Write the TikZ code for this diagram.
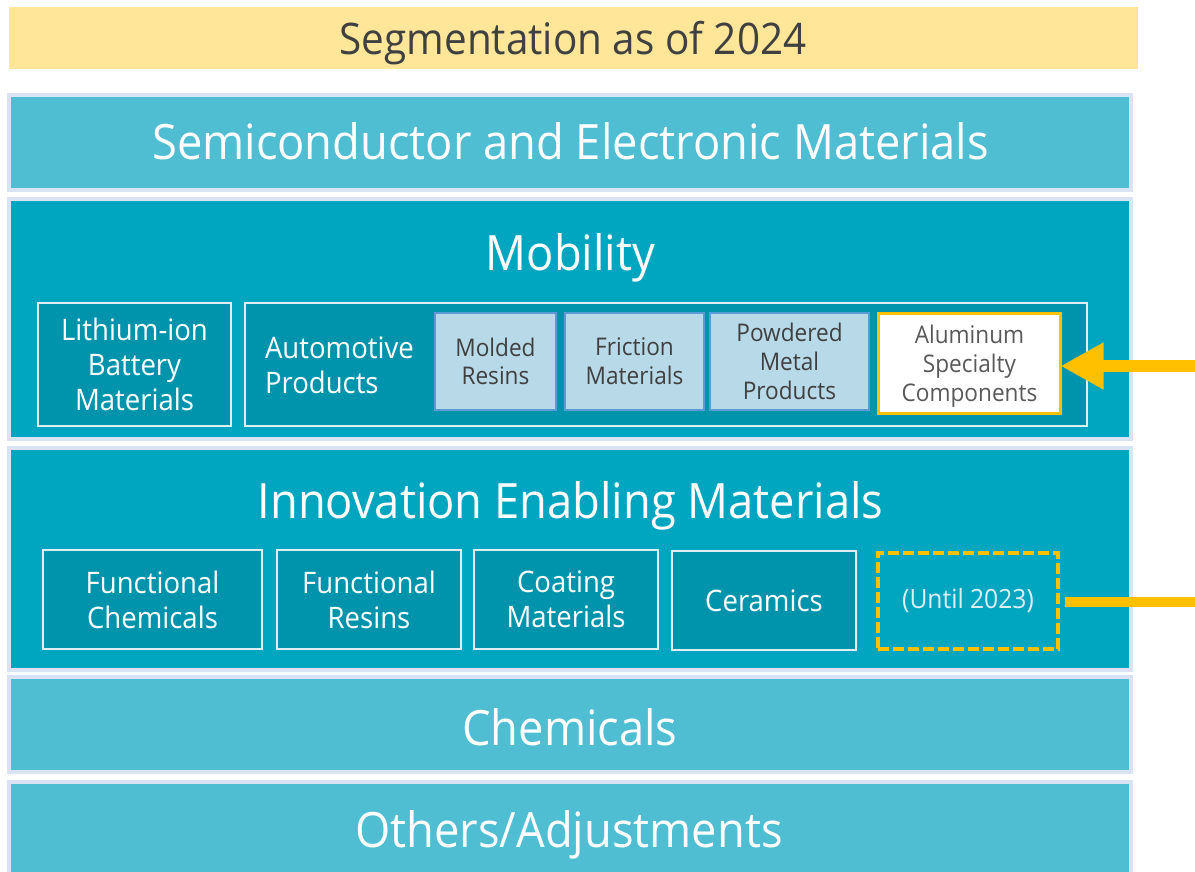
\documentclass[tikz,border=0pt]{standalone}
\usepackage{fontspec}
\setmainfont{Open Sans}[FakeStretch=0.93]
\usetikzlibrary{arrows.meta}

\definecolor{banner}{HTML}{FFE699}
\definecolor{frame}{HTML}{DAE3F3}
\definecolor{bandlight}{HTML}{4FBDD2}
\definecolor{banddark}{HTML}{00A6C0}
\definecolor{unitfill}{HTML}{0094AC}
\definecolor{unitline}{HTML}{DDEEF4}
\definecolor{subfill}{HTML}{B7D9E8}
\definecolor{subline}{HTML}{5B9BD5}
\definecolor{accent}{HTML}{FFC000}
\definecolor{inkdark}{HTML}{404040}
\definecolor{inkgrey}{HTML}{595959}
\definecolor{inksoft}{HTML}{DCEFF4}

\tikzset{
  x=1pt, y=-1pt,
  every node/.style={inner sep=0pt, outer sep=0pt},
  band/.style={draw=frame, line width=4pt, minimum width=1122pt},
  bandtitle/.style={anchor=base, text=white, font=\fontsize{48.7}{58}\selectfont},
  unittext/.style={text=white, font=\fontsize{29.6}{35}\selectfont},
  unit/.style={draw=unitline, line width=2pt, fill=unitfill, unittext, align=center},
  subtext/.style={align=center, font=\fontsize{24.3}{28.7}\selectfont},
  sub/.style={draw=subline, line width=2pt, fill=subfill, text=inkdark, subtext},
  pointer/.style={draw=accent, line width=3pt, fill=white},
  former/.style={draw=accent, line width=3.5pt, dash pattern=on 11pt off 4pt,
    text=inksoft, font=\fontsize{26.5}{31}\selectfont},
}

\begin{document}
\begin{tikzpicture}
\useasboundingbox (0,0) rectangle (1195,872);
\path[clip] (0,0) rectangle (1195,872);

% heading banner
\node[fill=banner, minimum width=1129pt, minimum height=62pt] (banner) at (573.5,38) {};
\node[anchor=base, text=inkdark, font=\fontsize{43.5}{50}\selectfont] (heading) at (573,55) {Segmentation as of 2024};

% segment bands
\node[band, fill=bandlight, minimum height=95pt]  (semi)  at (570,142.5) {};
\node[band, fill=banddark,  minimum height=240pt] (mob)   at (570,319) {};
\node[band, fill=banddark,  minimum height=222pt] (inno)  at (570,559) {};
\node[band, fill=bandlight, minimum height=95pt]  (chem)  at (570,724.5) {};
\node[band, fill=bandlight, minimum height=108pt] (other) at (570,836) {};

\node[bandtitle] (semititle)  at (570.5,160) {Semiconductor and Electronic Materials};
\node[bandtitle] (mobtitle)   at (570.5,270) {Mobility};
\node[bandtitle] (innotitle)  at (570.5,518) {Innovation Enabling Materials};
\node[bandtitle] (chemtitle)  at (570,745) {Chemicals};
\node[bandtitle] (othertitle) at (569,847) {Others/Adjustments};

% Mobility units
\node[unit, minimum width=193pt, minimum height=123pt] (lib) at (134.5,364.5) {Lithium-ion\\Battery\\Materials};
\node[unit, minimum width=842pt, minimum height=123pt] (auto) at (666,364.5) {};
\node[anchor=west, unittext, align=left] (autotext) at (265,365) {Automotive\\Products};

\node[sub, minimum width=121pt, minimum height=97pt] (molded)   at (495.5,361.5) {Molded\\Resins};
\node[sub, minimum width=139pt, minimum height=97pt] (friction) at (634.5,361.5) {Friction\\Materials};
\node[sub, minimum width=159pt, minimum height=97pt] (powder)   at (789.5,361.5) {Powdered\\Metal\\Products};
\node[pointer, minimum width=182pt, minimum height=100pt] (alu) at (969.5,363.5) {};
\node[subtext, text=inkgrey] (alutext) at (969.5,366) {Aluminum\\Specialty\\Components};

% Innovation Enabling Materials units
\node[unit, minimum width=219pt, minimum height=99pt] (fchem)   at (152.5,599.5) {Functional\\Chemicals};
\node[unit, minimum width=184pt, minimum height=99pt] (fresin)  at (369,599.5) {Functional\\Resins};
\node[unit, minimum width=184pt, minimum height=99pt] (coat)    at (566,599.5) {Coating\\Materials};
\node[unit, minimum width=184pt, minimum height=99pt] (ceramic) at (764,600.5) {Ceramics};
\node[former, minimum width=180pt, minimum height=96pt] (until) at (968,601) {(Until 2023)};

% transfer markers
\coordinate (movein) at (1195,366);
\coordinate (moveout) at (1195,602);
\draw[accent, line width=12pt, -{Triangle[length=43pt,width=44pt]}] (movein) -- (movein -| alu.east);
\draw[accent, line width=10pt, shorten >=7pt] (moveout) -- (moveout -| until.east);
\end{tikzpicture}
\end{document}
